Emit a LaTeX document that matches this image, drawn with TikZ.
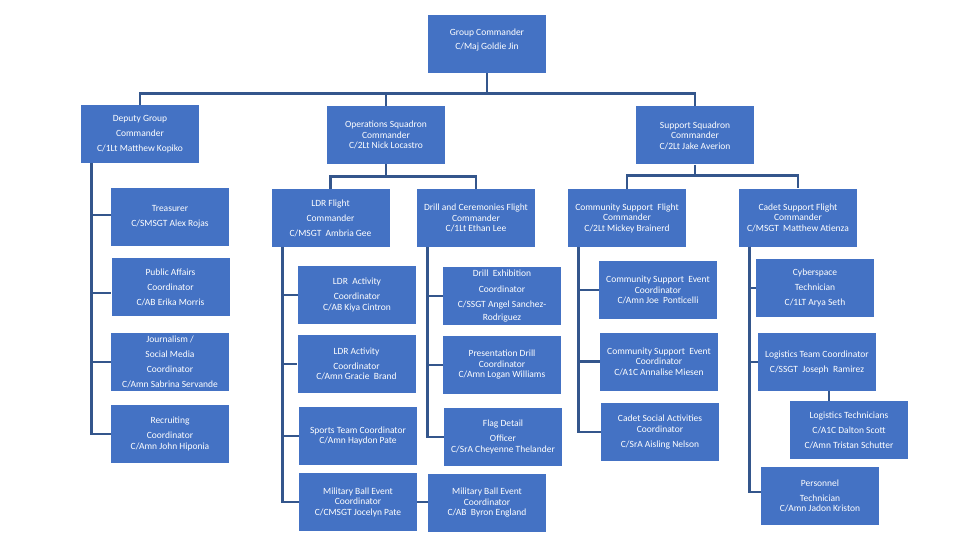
\documentclass[tikz,border=0pt]{standalone}
\usepackage{fontspec}
\setmainfont{Carlito}
\definecolor{boxblue}{HTML}{4472C4}
\definecolor{lineblue}{HTML}{34568C}
\tikzset{
  orgbox/.style={rectangle, fill=boxblue, text=white, inner sep=0pt,
    minimum width=118pt, minimum height=58pt, align=center,
    font=\fontsize{9.5}{10.5}\selectfont},
  link/.style={draw=lineblue, line width=2.7pt}
}
\newcommand{\gap}{\\[4.5pt]}
\begin{document}
\begin{tikzpicture}[x=1pt,y=-1pt]
\useasboundingbox (0,0) rectangle (960,540);
% top
\node[orgbox] (gc) at (487,44) {Group Commander\\[4pt]C/Maj Goldie Jin\\[-1pt]\mbox{}};
\node[orgbox] (dep) at (140,134) {Deputy Group\gap Commander\gap C/1Lt Matthew Kopiko};
\node[orgbox] (ops) at (386,135) {Operations Squadron\\Commander\\C/2Lt Nick Locastro};
\node[orgbox] (sup) at (695,135.5) {Support Squadron\\Commander\\C/2Lt Jake Averion};
% deputy branch
\node[orgbox] (tre) at (170,216.5) {Treasurer\gap C/SMSGT Alex Rojas};
\node[orgbox] (pa) at (170.5,287) {Public Affairs\gap Coordinator\gap C/AB Erika Morris};
\node[orgbox] (jou) at (170,362) {Journalism /\gap Social Media\gap Coordinator\gap C/Amn Sabrina Servande};
\node[orgbox] (rec) at (170,434) {Recruiting\gap Coordinator\\C/Amn John Hiponia};
% flights
\node[orgbox] (ldr) at (330.5,218) {LDR Flight\gap Commander\gap C/MSGT\ \ Ambria Gee};
\node[orgbox] (dc) at (476,218) {Drill and Ceremonies Flight\\Commander\\C/1Lt Ethan Lee};
\node[orgbox] (csf) at (627,218) {Community Support\ \ Flight\\Commander\\C/2Lt Mickey Brainerd};
\node[orgbox] (cdf) at (798,217.5) {Cadet Support Flight\\Commander\\C/MSGT\ \ Matthew Atienza};
% LDR branch
\node[orgbox] (ldra) at (357,295) {LDR\ \ Activity\gap Coordinator\\C/AB Kiya Cintron};
\node[orgbox] (ldrb) at (356.5,364) {LDR Activity\gap Coordinator\\C/Amn Gracie\ \ Brand};
\node[orgbox] (spt) at (358,436) {Sports Team Coordinator\\C/Amn Haydon Pate};
\node[orgbox] (mba) at (358,502) {Military Ball Event\\Coordinator\\C/CMSGT Jocelyn Pate};
\node[orgbox] (mbb) at (487,503) {Military Ball Event\\Coordinator\\C/AB\ \ Byron England};
% Drill branch
\node[orgbox] (dex) at (502,296) {Drill\ \ Exhibition\\[5.5pt]Coordinator\gap C/SSGT Angel Sanchez-\\[3pt]Rodriguez};
\node[orgbox] (pd) at (502,365) {Presentation Drill\\Coordinator\\C/Amn Logan Williams};
\node[orgbox] (fd) at (503,437) {Flag Detail\gap Officer\\C/SrA Cheyenne Thelander};
% Community support branch
\node[orgbox] (cse1) at (658,290) {Community Support\ \ Event\\Coordinator\\C/Amn Joe\ \ Ponticelli};
\node[orgbox] (cse2) at (659,361.5) {Community Support\ \ Event\\Coordinator\\C/A1C Annalise Miesen};
\node[orgbox] (cso) at (660,432) {Cadet Social Activities\\Coordinator\gap C/SrA Aisling Nelson};
% Cadet support branch
\node[orgbox] (cyb) at (815,288) {Cyberspace\gap Technician\gap C/1LT Arya Seth};
\node[orgbox] (ltc) at (817,362) {Logistics Team Coordinator\gap C/SSGT\ \ Joseph\ \ Ramirez};
\node[orgbox] (lte) at (849,430) {Logistics Technicians\gap C/A1C Dalton Scott\gap C/Amn Tristan Schutter};
\node[orgbox] (per) at (820,496) {Personnel\gap Technician\\C/Amn Jadon Kriston};
% connectors: top level
\draw[link] (gc.south) -- ++(0,20) -| (dep.north);
\draw[link] (gc.south) ++(0,20) -| (sup.north);
\draw[link] (ops.north) -- ([yshift=-20pt]ops.north |- gc.south);
% squadron buses
\draw[link] (ops.south) -- ++(0,12) -| (ldr.north);
\draw[link] (ops.south) ++(0,12) -| (dc.north);
\draw[link] (sup.south) -- ++(0,11) -| (csf.north);
\draw[link] (sup.south) ++(0,11) -| (cdf.north);
% deputy
\draw[link] ([xshift=11pt]dep.south west) |- (rec.west);
\draw[link] ([xshift=11pt]dep.south west) |- ([yshift=1.5pt]tre.west);
\draw[link] ([xshift=11pt]dep.south west) |- ([yshift=-6pt]pa.west);
\draw[link] ([xshift=11pt]dep.south west) |- (jou.west);
% LDR
\draw[link] ([xshift=11pt]ldr.south west) |- (mba.west);
\draw[link] ([xshift=11pt]ldr.south west) |- (ldra.west);
\draw[link] ([xshift=11pt]ldr.south west) |- (ldrb.west);
\draw[link] ([xshift=11pt]ldr.south west) |- (spt.west);
\draw[link] (mba.east) -- (mba.east -| mbb.west);
% Drill
\draw[link] ([xshift=11pt]dc.south west) |- (fd.west);
\draw[link] ([xshift=11pt]dc.south west) |- (dex.west);
\draw[link] ([xshift=11pt]dc.south west) |- (pd.west);
% Community support
\draw[link] ([xshift=11pt]csf.south west) |- (cso.west);
\draw[link] ([xshift=11pt]csf.south west) |- (cse1.west);
\draw[link] ([xshift=11pt]csf.south west) |- (cse2.west);
% Cadet support
\draw[link] ([xshift=11pt]cdf.south west) |- ([yshift=4pt]per.west);
\draw[link] ([xshift=11pt]cdf.south west) |- (cyb.west);
\draw[link] ([xshift=11pt]cdf.south west) |- (ltc.west);
\draw[link] ([xshift=12pt]ltc.south) -- ([xshift=12pt]ltc.south |- lte.north);
\end{tikzpicture}
\end{document}
